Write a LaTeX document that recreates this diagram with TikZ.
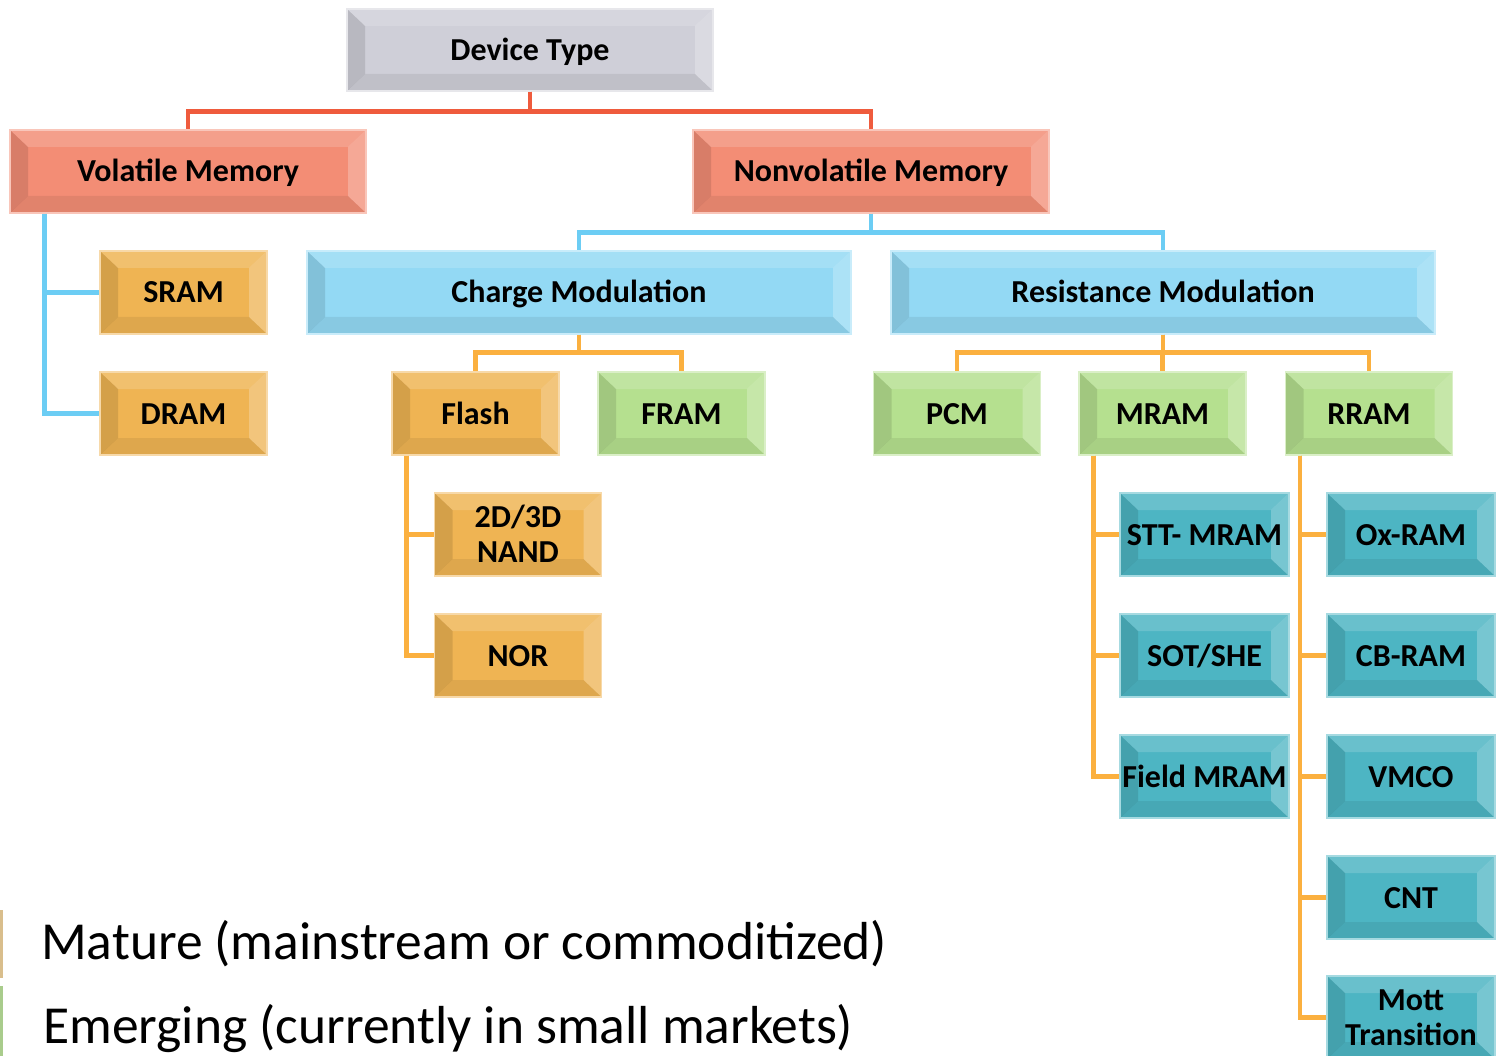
\documentclass[tikz,border=0pt]{standalone}
\usepackage{fontspec}
\setmainfont{Carlito}
\definecolor{cgray}{HTML}{CFCFD8}
\definecolor{csalmon}{HTML}{F38D75}
\definecolor{cgold}{HTML}{EFB453}
\definecolor{cgreen}{HTML}{B5E08F}
\definecolor{cteal}{HTML}{4DB5C3}
\definecolor{csky}{HTML}{93D9F4}
\definecolor{lred}{HTML}{EF5B3D}
\definecolor{lblue}{HTML}{6CCDF4}
\definecolor{lorange}{HTML}{FBB03F}
\definecolor{legtan}{HTML}{D9BE8C}
\definecolor{leggreen}{HTML}{A9CC8C}
\tikzset{
  box/.style={rectangle, inner sep=0pt, minimum width=167pt, minimum height=83pt,
    fill=#1, draw=#1!50!white, line width=1.2pt, align=center,
    text height=21pt, text depth=0pt,
    font=\fontsize{32}{35}\selectfont\bfseries,
    path picture={
      \coordinate (bbnw) at (path picture bounding box.north west);
      \coordinate (bbne) at (path picture bounding box.north east);
      \coordinate (bbsw) at (path picture bounding box.south west);
      \coordinate (bbse) at (path picture bounding box.south east);
      % top bevel
      \fill[white,opacity=.16] (bbnw) -- (bbne) -- ([shift={(-18pt,-17pt)}]bbne) -- ([shift={(18pt,-17pt)}]bbnw) -- cycle;
      % right bevel
      \fill[white,opacity=.24] (bbne) -- (bbse) -- ([shift={(-18pt,17pt)}]bbse) -- ([shift={(-18pt,-17pt)}]bbne) -- cycle;
      % left bevel
      \fill[black,opacity=.11] (bbnw) -- (bbsw) -- ([shift={(18pt,17pt)}]bbsw) -- ([shift={(18pt,-17pt)}]bbnw) -- cycle;
      % bottom bevel
      \fill[black,opacity=.07] (bbsw) -- (bbse) -- ([shift={(-18pt,17pt)}]bbse) -- ([shift={(18pt,17pt)}]bbsw) -- cycle;
    }},
  twoline/.style={text height=56pt},
  link/.style={draw=#1, line width=4.5pt},
  legend/.style={anchor=west, inner sep=0pt, font=\fontsize{53.5}{60}\selectfont}
}
\begin{document}
\begin{tikzpicture}[x=1pt, y=-1pt]
\useasboundingbox (0,0) rectangle (1496,1056);

% root and first level
\node[box=cgray, minimum width=366pt, minimum height=82pt] (dev) at (530,50) {Device Type};
\node[box=csalmon, minimum width=356pt] (vol) at (188,171.5) {Volatile Memory};
\node[box=csalmon, minimum width=356pt] (nonvol) at (871,171.5) {Nonvolatile Memory};

% volatile branch
\node[box=cgold] (sram) at (183.5,292.5) {SRAM};
\node[box=cgold] (dram) at (183.5,413.5) {DRAM};

% nonvolatile branch
\node[box=csky, minimum width=544pt] (charge) at (579,292.5) {Charge Modulation};
\node[box=csky, minimum width=544pt] (resist) at (1163,292.5) {Resistance Modulation};

\node[box=cgold] (flash) at (475.5,413.5) {Flash};
\node[box=cgreen] (fram) at (681.5,413.5) {FRAM};
\node[box=cgreen] (pcm) at (957,413.5) {PCM};
\node[box=cgreen] (mram) at (1162.5,413.5) {MRAM};
\node[box=cgreen] (rram) at (1369,413.5) {RRAM};

\node[box=cgold, twoline] (nand) at (518,534.5) {2D/3D\\NAND};
\node[box=cgold] (nor) at (518,655.5) {NOR};

\node[box=cteal, minimum width=169pt] (stt) at (1204.5,534.5) {STT- MRAM};
\node[box=cteal, minimum width=169pt] (sot) at (1204.5,655.5) {SOT/SHE};
\node[box=cteal, minimum width=169pt] (field) at (1204.5,776.5) {Field MRAM};

\node[box=cteal, minimum width=168pt] (ox) at (1411,534.5) {Ox-RAM};
\node[box=cteal, minimum width=168pt] (cb) at (1411,655.5) {CB-RAM};
\node[box=cteal, minimum width=168pt] (vmco) at (1411,776.5) {VMCO};
\node[box=cteal, minimum width=168pt] (cnt) at (1411,897.5) {CNT};
\node[box=cteal, minimum width=168pt, twoline] (mott) at (1411,1017.5) {Mott\\Transition};

% connectors
\draw[link=lred] (dev.south) -- ++(0,20) -| (vol.north);
\draw[link=lred] (dev.south) -- ++(0,20) -| (nonvol.north);

\draw[link=lblue] ([xshift=35pt]vol.south west) |- (sram.west);
\draw[link=lblue] ([xshift=35pt]vol.south west) |- (dram.west);
\draw[link=lblue] (nonvol.south) -- ++(0,19) -| (charge.north);
\draw[link=lblue] (nonvol.south) -- ++(0,19) -| (resist.north);

\draw[link=lorange] (charge.south) -- ++(0,18) -| (flash.north);
\draw[link=lorange] (charge.south) -- ++(0,18) -| (fram.north);
\draw[link=lorange] (resist.south) -- ++(0,18) -| (pcm.north);
\draw[link=lorange] (resist.south) -- ++(0,18) -| (mram.north);
\draw[link=lorange] (resist.south) -- ++(0,18) -| (rram.north);

\draw[link=lorange] ([xshift=15pt]flash.south west) |- (nand.west);
\draw[link=lorange] ([xshift=15pt]flash.south west) |- (nor.west);

\draw[link=lorange] ([xshift=15pt]mram.south west) |- (stt.west);
\draw[link=lorange] ([xshift=15pt]mram.south west) |- (sot.west);
\draw[link=lorange] ([xshift=15pt]mram.south west) |- (field.west);

\draw[link=lorange] ([xshift=15pt]rram.south west) |- (ox.west);
\draw[link=lorange] ([xshift=15pt]rram.south west) |- (cb.west);
\draw[link=lorange] ([xshift=15pt]rram.south west) |- (vmco.west);
\draw[link=lorange] ([xshift=15pt]rram.south west) |- (cnt.west);
\draw[link=lorange] ([xshift=15pt]rram.south west) |- (mott.west);

% legend
\fill[legtan] (0,910) rectangle (3,978);
\fill[leggreen] (0,986) rectangle (3,1056);
\node[legend] (mature) at (41,944) {Mature (mainstream or commoditized)};
\node[legend] (emerging) at (43,1029) {Emerging (currently in small markets)};
\end{tikzpicture}
\end{document}
